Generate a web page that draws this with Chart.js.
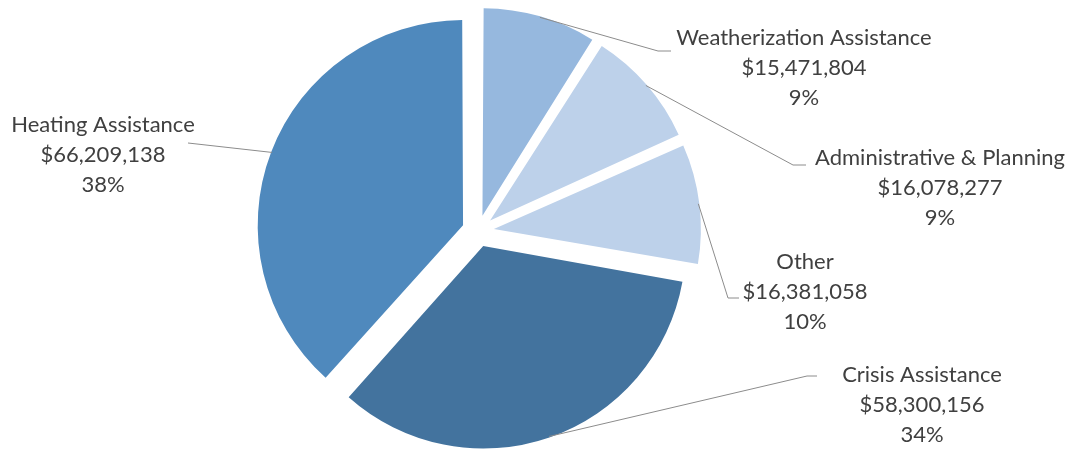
<!DOCTYPE html>
<html>
<head>
<meta charset="utf-8">
<script src="https://cdn.jsdelivr.net/npm/chart.js@4/dist/chart.umd.min.js"></script>
<style>
  body { margin: 0; background: #fff; }
  #wrap { width: 1072px; height: 452px; }
</style>
</head>
<body>
<div id="wrap"><canvas id="myChart" width="1072" height="452"></canvas></div>
<script>
const categories = [
  "Weatherization Assistance",
  "Administrative & Planning",
  "Other",
  "Crisis Assistance",
  "Heating Assistance",
];
const amounts = [15471804, 16078277, 16381058, 58300156, 66209138];
const percentLabels = ["9%", "9%", "10%", "34%", "38%"];
const colors = ["#96b8de", "#bdd1ea", "#bdd1ea", "#43739e", "#4f89bd"];

// where each label sits: elbow of the leader line, end of the short tick, text centre/top line
const labelSpots = [
  { elbow: [658, 51], end: [671, 51], cx: 804, y: 38 },
  { elbow: [793, 165], end: [806, 165], cx: 940, y: 158 },
  { elbow: [728, 298], end: [739, 298], cx: 805, y: 262 },
  { elbow: [807, 376], end: [817, 376], cx: 922, y: 375 },
  { elbow: [188, 143], end: [188, 143], cx: 103, y: 125 },
];

const fmt = (v) => "$" + v.toLocaleString("en-US");

const calloutPlugin = {
  id: "callouts",
  afterDatasetsDraw(chart) {
    const { ctx } = chart;
    const meta = chart.getDatasetMeta(0);
    ctx.save();
    meta.data.forEach((arc, i) => {
      const spot = labelSpots[i];
      const mid = (arc.startAngle + arc.endAngle) / 2;
      const off = (arc.options.offset || 0) / 4;
      const circ = arc.endAngle - arc.startAngle;
      const r = arc.outerRadius + off * (1 - Math.sin(Math.min(Math.PI, circ)));
      const sx = arc.x + Math.cos(mid) * (off + r - 1);
      const sy = arc.y + Math.sin(mid) * (off + r - 1);

      ctx.strokeStyle = "#8c8c8c";
      ctx.lineWidth = 1;
      ctx.beginPath();
      ctx.moveTo(sx, sy);
      ctx.lineTo(spot.elbow[0], spot.elbow[1]);
      ctx.lineTo(spot.end[0], spot.end[1]);
      ctx.stroke();

      ctx.fillStyle = "#404040";
      ctx.font = "22px Lato";
      ctx.textAlign = "center";
      ctx.textBaseline = "middle";
      const lines = [categories[i], fmt(amounts[i]), percentLabels[i]];
      lines.forEach((t, k) => ctx.fillText(t, spot.cx, spot.y + k * 30));
    });
    ctx.restore();
  },
};

new Chart(document.getElementById("myChart"), {
  type: "pie",
  data: {
    labels: categories,
    datasets: [
      {
        data: amounts,
        backgroundColor: colors,
        borderWidth: 0,
        offset: 64,
        radius: 200,
      },
    ],
  },
  options: {
    responsive: false,
    animation: false,
    events: [],
    layout: { padding: { left: 0, right: 116, top: 10, bottom: 0 } },
    plugins: {
      legend: { display: false },
      tooltip: { enabled: false },
    },
  },
  plugins: [calloutPlugin],
});
</script>
</body>
</html>
